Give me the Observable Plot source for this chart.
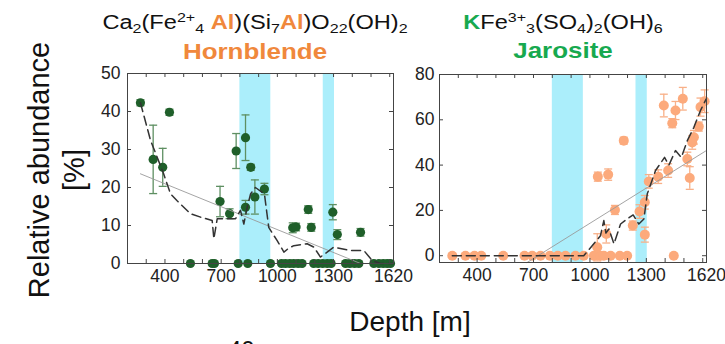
<!DOCTYPE html>
<html>
<head>
<meta charset="utf-8">
<script src="https://cdn.jsdelivr.net/npm/d3@7"></script>
<script src="https://cdn.jsdelivr.net/npm/@observablehq/plot@0.6"></script>
<style>
  body { margin: 0; background: #fff; }
  #wrap { position: relative; width: 725px; height: 344px; overflow: hidden; background: #fff;
          font-family: "Liberation Sans", Arial, Helvetica, sans-serif; color: #111; }
  .abs { position: absolute; white-space: nowrap; }
  .t1 { font-size: 20px; line-height: 20px; transform: translateX(-50%) scaleX(1.18); }
  .t2 { font-size: 22px; line-height: 22px; font-weight: bold; transform: translateX(-50%) scaleX(1.18); }
  sub, sup { font-size: 0.68em; line-height: 0; }
  sub { vertical-align: -0.3em; }
  sup { vertical-align: 0.55em; }
  .or { color: #f0883c; font-weight: bold; }
  .gr { color: #17a94f; font-weight: bold; }
  svg { position: absolute; left: 0; top: 0; }
</style>
</head>
<body>
<div id="wrap">
  <div class="abs t1" style="left:255px; top:12px;">Ca<sub>2</sub>(Fe<sup>2+</sup><sub>4</sub> <span class="or">Al</span>)(Si<sub>7</sub><span class="or">Al</span>)O<sub>22</sub>(OH)<sub>2</sub></div>
  <div class="abs t2" style="left:255px; top:41px; color:#f0883c;">Hornblende</div>
  <div class="abs t1" style="left:563px; top:12px;"><span class="gr">K</span>Fe<sup>3+</sup><sub>3</sub>(SO<sub>4</sub>)<sub>2</sub>(OH)<sub>6</sub></div>
  <div class="abs t2" style="left:563px; top:40px; color:#17a94f;">Jarosite</div>
  <div class="abs" style="left:57px; top:170px; font-size:29px; line-height:35px; text-align:center; transform: translate(-50%,-50%) rotate(-90deg);">Relative abundance<br>[%]</div>
  <div class="abs" style="left:410px; top:306px; font-size:28px; line-height:32px; transform: translateX(-50%);">Depth [m]</div>
  <div class="abs" style="left:228px; top:338px; font-size:24px; line-height:24px;">40</div>
</div>
<script>
// ---------- axes ----------
const depthDomain = [200, 1620];
const xMinor = [300, 400, 500, 600, 700, 800, 900, 1000, 1100, 1200, 1300, 1400, 1500, 1600];
const xLabels = [400, 700, 1000, 1300, 1620];
const bandStart = [800, 1245];
const bandEnd = [965, 1305];

// ---------- Hornblende ----------
const hbDepth = [269, 424, 337, 388, 694, 745, 780, 830, 830, 858, 880, 931, 1082, 1100, 1165, 1181, 1296, 1320, 1444];
const hbValue = [42.3, 39.8, 27.4, 25.3, 16.3, 13.1, 29.6, 33.1, 14.8, 25.3, 17.5, 19.6, 9.4, 9.6, 14.2, 9.5, 13.5, 7.6, 8.2];
const hbError = [0.8, 0.8, 9, 5, 4, 1.3, 4.6, 6, 1.8, 0.8, 4.5, 1.5, 1.3, 1, 1, 1, 2, 1.3, 1];
const hbZeroDepth = [536, 652, 664, 791, 842, 963, 1022, 1043, 1066, 1087, 1111, 1132, 1194, 1218, 1242, 1266, 1287, 1364, 1387, 1412, 1435, 1515, 1542, 1565, 1586, 1604];
const hbTrendDepth = [269, 323, 390, 430, 465, 536, 590, 652, 661, 679, 732, 777, 803, 821, 840, 857, 883, 931, 954, 999, 1035, 1060, 1088, 1159, 1195, 1230, 1266, 1301, 1391, 1462, 1506, 1550, 1620];
const hbTrendValue = [42.3, 32.4, 24, 18.3, 16.5, 13.1, 12.2, 11.3, 6.5, 11.8, 11.8, 11.8, 14, 10.4, 15, 18.3, 20, 18.3, 9.5, 6, 3, 4, 4.7, 5.2, 4.3, 1.7, 3, 4.3, 3.4, 3.4, 0.8, 0, 0];
const hbFitDepth = [269, 1444];
const hbFitValue = [23.6, 0];
const hbYTicks = [0, 10, 20, 30, 40, 50];

// ---------- Jarosite ----------
const jaDepth = [1393, 1455, 1438, 1494, 1588, 1610, 1579, 1553, 1544, 1518, 1531, 1416, 1363, 1313, 1292, 1264, 1180, 1042, 1097, 1133, 1292, 1228, 1087, 1039];
const jaValue = [66.3, 64.1, 58.5, 69.3, 65.6, 68.2, 57, 52.3, 50, 42.7, 34.3, 37.6, 34.9, 32.8, 23.6, 19.5, 50.8, 34.9, 35.8, 20.2, 9.3, 13.3, 9.6, 3.7];
const jaError = [5, 4, 2, 5, 4, 5, 2, 3, 3, 3, 5, 3, 3, 3, 3, 3, 1.5, 2, 2.5, 2, 3.3, 2, 4, 6];
const jaZeroDepth = [268, 338, 386, 422, 539, 652, 693, 737, 787, 829, 870, 923, 967, 1021, 1056, 1074, 1110, 1159, 1198, 1446];
const jaTrendDepth = [268, 967, 1012, 1056, 1074, 1085, 1101, 1128, 1163, 1198, 1230, 1260, 1287, 1305, 1349, 1397, 1420, 1455, 1486, 1518, 1553, 1588, 1619];
const jaTrendValue = [0, 0, 4.4, 8.8, 15.5, 10, 11.8, 5.2, 14, 16.2, 18, 14, 16.2, 27.3, 37.6, 43.4, 40, 46.4, 43.4, 50.8, 56.7, 64.1, 69.3];
const jaFitDepth = [666, 1619];
const jaFitValue = [-3, 46.4];
const jaYTicks = [0, 20, 40, 60, 80];

const capSymbol = {
  draw(ctx, size) {
    const r = Math.sqrt(size / Math.PI);
    ctx.moveTo(-r, 0);
    ctx.lineTo(r, 0);
  }
};

function panel(cfg) {
  const W = 725 - cfg.ml - cfg.mr;
  const H = 344 - cfg.mt - cfg.mb;
  const pts = cfg.depth.map((d, i) => ({d, v: cfg.value[i], e: cfg.error[i]}));
  const zeros = cfg.zero.map(d => ({d, v: 0}));
  const trend = cfg.trendD.map((d, i) => ({d, v: cfg.trendV[i]}));
  const fit = cfg.fitD.map((d, i) => ({d, v: cfg.fitV[i]}));
  const bands = bandStart.map((s, i) => ({s, e: bandEnd[i]}));
  const tl = 4;
  return Plot.plot({
    width: 725, height: 344,
    marginLeft: cfg.ml, marginRight: cfg.mr, marginTop: cfg.mt, marginBottom: cfg.mb,
    style: {fontFamily: '"Liberation Sans", Arial, sans-serif', fontSize: "17.5px", color: "#222", background: "transparent"},
    x: {domain: depthDomain},
    y: {domain: cfg.yDomain},
    marks: [
      Plot.rect(bands, {x1: "s", x2: "e", fill: "#abeefb"}),
      Plot.ruleX(pts, {x: "d", y1: d => d.v - d.e, y2: d => d.v + d.e, stroke: cfg.errColor, strokeWidth: 1.3}),
      Plot.dot(pts, {x: "d", y: d => d.v + d.e, symbol: capSymbol, r: 4, stroke: cfg.errColor, strokeWidth: 1.3, fill: "none"}),
      Plot.dot(pts, {x: "d", y: d => d.v - d.e, symbol: capSymbol, r: 4, stroke: cfg.errColor, strokeWidth: 1.3, fill: "none"}),
      Plot.dot(zeros, {x: "d", y: "v", r: cfg.r, fill: cfg.dotColor}),
      Plot.dot(pts, {x: "d", y: "v", r: cfg.r, fill: cfg.dotColor}),
      Plot.line(fit, {x: "d", y: "v", stroke: "#9a9a9a", strokeWidth: 0.9}),
      Plot.line(trend, {x: "d", y: "v", stroke: "#333", strokeWidth: 1.5, strokeDasharray: "9,5"}),
      Plot.frame({stroke: "#444", strokeWidth: 1}),
      Plot.tickX(xMinor, {x: d => d, insetTop: H - tl, stroke: "#444"}),
      Plot.tickX(xMinor, {x: d => d, insetBottom: H - tl, stroke: "#444"}),
      Plot.tickY(cfg.yTicks, {y: d => d, insetRight: W - tl, stroke: "#444"}),
      Plot.tickY(cfg.yTicks, {y: d => d, insetLeft: W - tl, stroke: "#444"}),
      Plot.axisX({ticks: xLabels, tickSize: 0, tickPadding: 6, label: null, tickFormat: d => String(d)}),
      Plot.axisY({ticks: cfg.yTicks, tickSize: 0, tickPadding: cfg.ypad, label: null, tickFormat: d => String(d)})
    ]
  });
}

const wrap = document.getElementById("wrap");
wrap.appendChild(panel({
  ml: 127, mr: 332, mt: 73, mb: 81, yDomain: [0, 50], yTicks: hbYTicks, ypad: 7,
  depth: hbDepth, value: hbValue, error: hbError, zero: hbZeroDepth,
  trendD: hbTrendDepth, trendV: hbTrendValue, fitD: hbFitDepth, fitV: hbFitValue,
  dotColor: "#1f5f2a", errColor: "#5e8f62", r: 4.6
}));
wrap.appendChild(panel({
  ml: 439, mr: 19, mt: 74, mb: 82, yDomain: [-3, 80], yTicks: jaYTicks, ypad: 5,
  depth: jaDepth, value: jaValue, error: jaError, zero: jaZeroDepth,
  trendD: jaTrendDepth, trendV: jaTrendValue, fitD: jaFitDepth, fitV: jaFitValue,
  dotColor: "#fcaa7c", errColor: "#f8b088", r: 5
}));
</script>
</body>
</html>
